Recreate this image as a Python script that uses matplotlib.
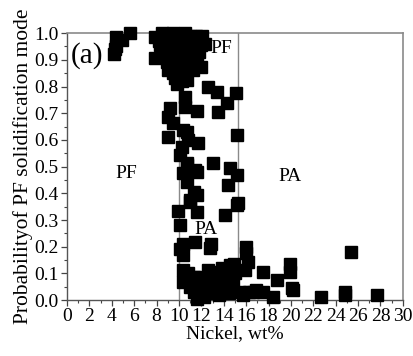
import matplotlib
matplotlib.use("Agg")
import matplotlib.pyplot as plt
from matplotlib.ticker import MultipleLocator

# nickel content (wt%) and probability of PF mode
nickel = [
    4.2, 4.4, 4.3, 4.9, 4.4, 5.6,
    7.9, 7.9, 8.3, 8.45, 8.2, 8.5, 8.7, 8.8, 8.9, 9.0, 9.0, 9.2, 9.3, 9.4,
    9.5, 9.5, 9.7, 9.8, 9.8, 9.9, 10.0, 10.0, 10.2, 10.3, 10.4, 10.5, 10.7,
    10.7, 10.8, 11.0, 11.0, 11.2, 11.25, 11.3, 11.5, 12.0, 12.0, 12.1,
    8.6, 9.1, 9.6, 10.1, 10.6, 11.1, 11.6, 9.1, 9.6, 10.1, 10.6, 11.1, 11.6,
    8.6, 9.3, 10.2, 10.6, 9.6, 10.3, 11.8, 12.3,
    12.6, 13.4, 15.1, 14.3, 13.5, 11.6,
    10.5, 10.5, 9.2, 9.0, 9.5, 10.4, 9.0, 10.7, 10.8, 11.7, 10.1, 10.24,
    10.7, 10.7, 10.4, 11.4, 11.6, 10.7, 11.3, 11.6, 11.0, 11.0,
    15.15, 13.0, 14.55, 15.15, 14.4, 15.3, 14.1, 15.15,
    9.94, 11.6, 10.1, 10.4, 10.1, 10.4, 11.4, 12.9, 12.8,
    16.0, 16.0, 16.2, 15.9,
    10.4, 10.4, 11.3, 11.3, 11.9, 12.6, 13.2, 13.8, 14.55, 14.9, 13.0,
    13.6, 14.2, 12.8, 13.6, 14.5, 15.45, 16.3, 16.9, 15.7, 16.6, 17.5,
    18.4, 11.0, 12.0, 12.3, 13.0, 14.0, 14.8, 15.0, 12.2, 10.8, 11.6,
    17.5, 18.8, 19.9, 19.9, 20.2, 20.1, 22.7, 24.8, 24.8, 25.4, 27.65,
]
prob_pf = [
    0.92, 0.95, 0.94, 0.975, 0.986, 1.0,
    0.985, 0.905, 0.955, 1.0, 0.97, 0.93, 0.99, 0.96, 0.89, 0.86, 0.99, 0.94, 0.97, 0.9,
    0.85, 1.0, 0.92, 0.96, 0.81, 0.88, 0.99, 0.84, 0.93, 0.97, 0.89, 1.0, 0.94,
    0.824, 0.96, 0.99, 0.88, 0.92, 0.86, 0.97, 0.99, 0.955, 0.874, 0.99,
    0.985, 0.975, 0.98, 0.975, 0.985, 0.975, 0.96, 0.91, 0.935, 0.905, 0.91, 0.94, 0.9,
    0.91, 0.87, 0.86, 0.87, 0.83, 0.82, 0.93, 0.96,
    0.8, 0.78, 0.774, 0.737, 0.705, 0.71,
    0.76, 0.724, 0.72, 0.686, 0.663, 0.637, 0.61, 0.63, 0.6, 0.59, 0.543, 0.574,
    0.513, 0.506, 0.475, 0.487, 0.48, 0.443, 0.406, 0.393, 0.375, 0.368,
    0.618, 0.512, 0.494, 0.47, 0.43, 0.362, 0.32, 0.356,
    0.335, 0.33, 0.28, 0.212, 0.19, 0.168, 0.218, 0.212, 0.194,
    0.2, 0.175, 0.143, 0.112,
    0.112, 0.069, 0.087, 0.031, 0.087, 0.112, 0.107, 0.119, 0.131, 0.137, 0.069,
    0.062, 0.05, 0.025, 0.02, 0.025, 0.031, 0.031, 0.037, 0.019, 0.031, 0.031,
    0.012, 0.05, 0.04, 0.06, 0.04, 0.08, 0.06, 0.1, 0.01, 0.1, 0.005,
    0.106, 0.075, 0.137, 0.106, 0.037, 0.045, 0.012, 0.031, 0.018, 0.181, 0.019,
]
boundaries = [10.0, 15.3]

plt.rcParams['font.family'] = ['Liberation Serif', 'DejaVu Serif']

fig = plt.figure(figsize=(4.14, 3.56), dpi=100)
ax = fig.add_axes([0.162, 0.157, 0.811, 0.750])

for b in boundaries:
    ax.axvline(b, color="#8a8a8a", lw=1.0, zorder=1)

ax.plot(nickel, prob_pf, "s", color="black", markersize=8, clip_on=False, zorder=3)

ax.set_xlim(0, 30)
ax.set_ylim(0, 1.0)
ax.xaxis.set_major_locator(MultipleLocator(2))
ax.xaxis.set_minor_locator(MultipleLocator(1))
ax.yaxis.set_major_locator(MultipleLocator(0.1))
ax.yaxis.set_minor_locator(MultipleLocator(0.05))
ax.yaxis.set_major_formatter(matplotlib.ticker.FormatStrFormatter("%.1f"))
ax.tick_params(which="major", direction="out", length=4, width=0.9, color="#444444",
               labelsize=14, pad=2)
ax.tick_params(which="minor", direction="out", length=2.5, width=0.8, color="#444444")

for s in ["top", "right"]:
    ax.spines[s].set_color("#8a8a8a")
    ax.spines[s].set_linewidth(1.2)
for s in ["left", "bottom"]:
    ax.spines[s].set_color("#555555")
    ax.spines[s].set_linewidth(1.0)

ax.set_xlabel("Nickel, wt%", fontsize=14, labelpad=0)
ax.set_ylabel("Probabilityof PF solidification mode", fontsize=15.5, labelpad=1)

ax.text(0.3, 0.915, "(a)", fontsize=21, ha="left", va="center")
ax.text(13.8, 0.944, "PF", fontsize=14, ha="center", va="center")
ax.text(5.3, 0.476, "PF", fontsize=14, ha="center", va="center")
ax.text(12.45, 0.264, "PA", fontsize=14, ha="center", va="center")
ax.text(19.9, 0.464, "PA", fontsize=14, ha="center", va="center")

fig.savefig("out.png", dpi=100)
